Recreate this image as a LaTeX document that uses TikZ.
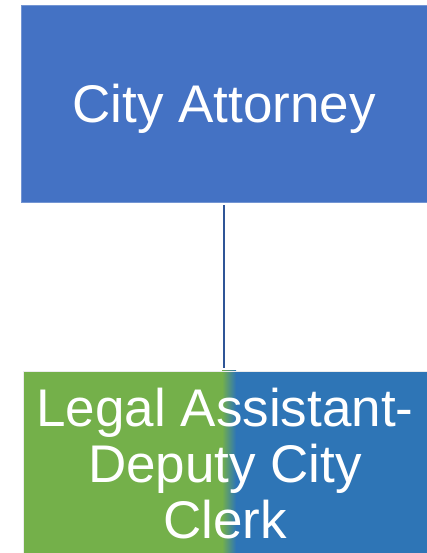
\documentclass[tikz,border=0pt]{standalone}
\usepackage{fontspec}
\setmainfont{Liberation Sans}
\usetikzlibrary{positioning}
\definecolor{attyblue}{HTML}{4472C4}
\definecolor{clerkgreen}{HTML}{74B04A}
\definecolor{clerkblue}{HTML}{2E75B6}
\definecolor{linkblue}{HTML}{2F5597}

\begin{document}
\begin{tikzpicture}[x=1pt,y=1pt,node distance = 360pt,on grid,align=center,
    font=\fontsize{53}{56}\selectfont, text=white, text depth=0pt]
    \useasboundingbox (0,0) rectangle (426,553);
    \node[rectangle, fill=attyblue, draw=attyblue!75!white, line width=0.8pt,
      minimum width=406pt, minimum height=197pt] (atty) at (224,449.5) {City Attorney};
    \node[rectangle, fill=clerkgreen, draw=white!85!gray, line width=0.8pt,
      minimum width=404pt, minimum height=185pt,
      path picture={
        \fill[clerkblue] ([xshift=11pt]path picture bounding box.south) rectangle (path picture bounding box.north east);
        \shade[left color=clerkgreen, right color=clerkblue] ([xshift=-3pt]path picture bounding box.south) rectangle ([xshift=11pt]path picture bounding box.north);
      }] (clerk) [below = of atty, xshift=1pt] {Legal Assistant-\\Deputy City\\Clerk};
    \path
    (atty.south) edge[linkblue, line width=1.6pt, shorten <=3pt, shorten >=3pt] (atty.south |- clerk.north)
    ;
\end{tikzpicture}
\end{document}
